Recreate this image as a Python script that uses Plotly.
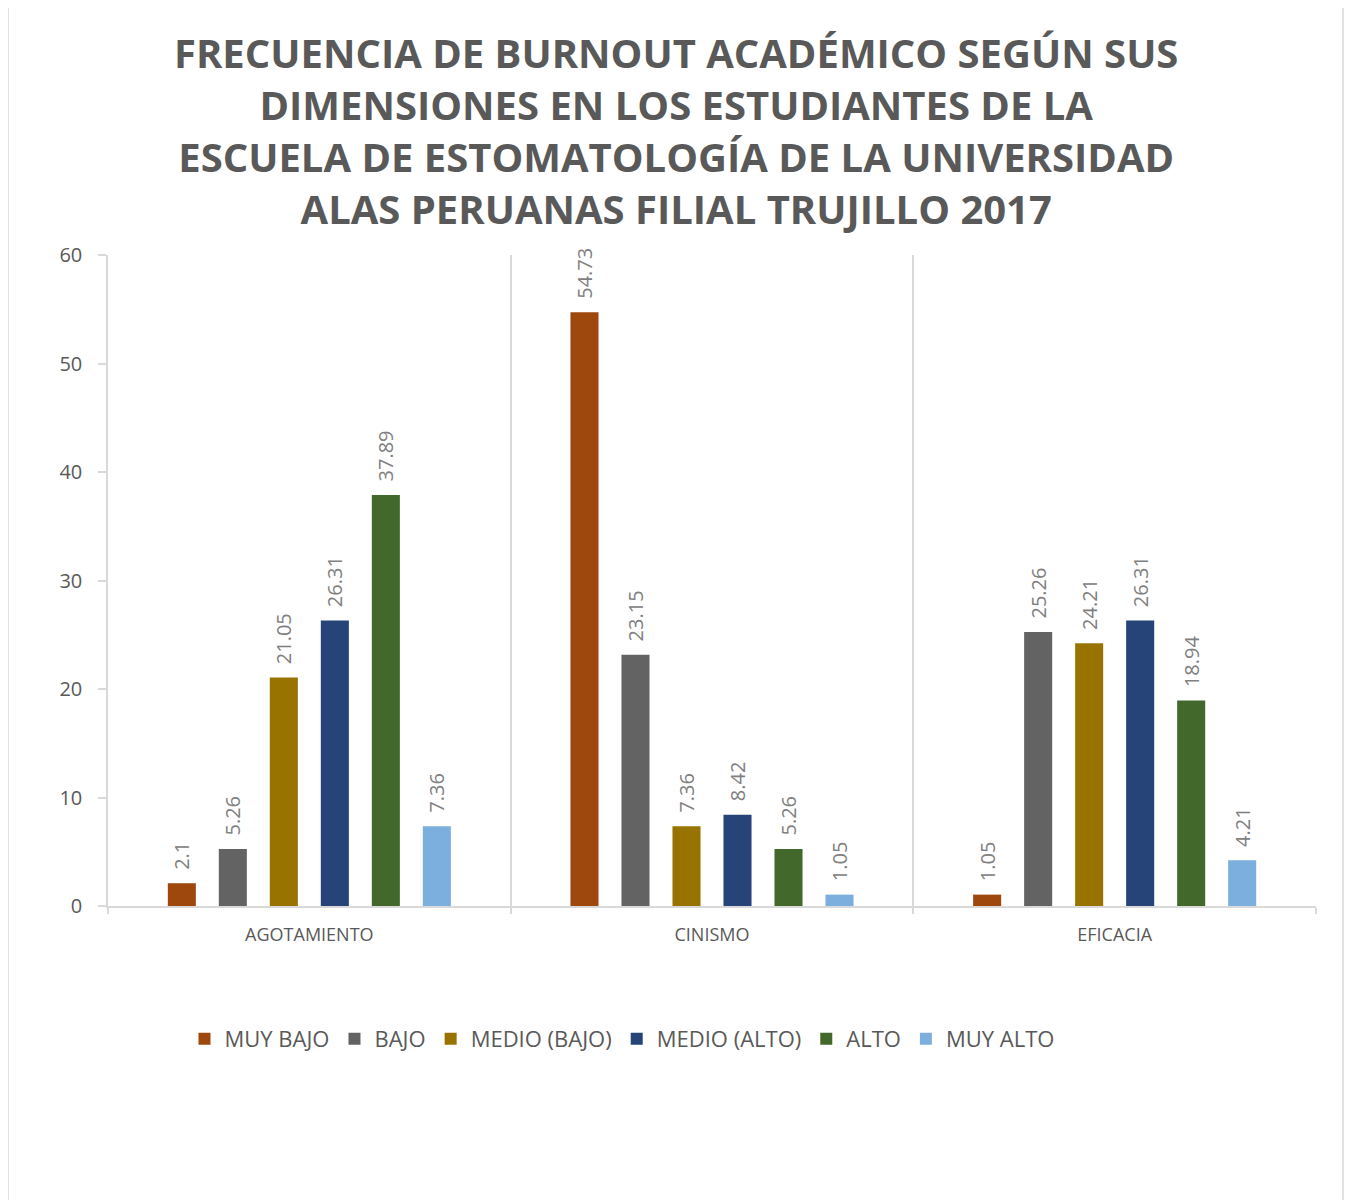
import plotly.graph_objects as go

categories = ["AGOTAMIENTO", "CINISMO", "EFICACIA"]
series_names = ["MUY BAJO", "BAJO", "MEDIO (BAJO)", "MEDIO (ALTO)", "ALTO", "MUY ALTO"]
muy_bajo = [2.1, 54.73, 1.05]
bajo = [5.26, 23.15, 25.26]
medio_bajo = [21.05, 7.36, 24.21]
medio_alto = [26.31, 8.42, 26.31]
alto = [37.89, 5.26, 18.94]
muy_alto = [7.36, 1.05, 4.21]
series_values = [muy_bajo, bajo, medio_bajo, medio_alto, alto, muy_alto]
colors = ["#9E480E", "#636363", "#997300", "#264478", "#43682B", "#7CAFDD"]

title_lines = [
    "FRECUENCIA DE BURNOUT ACADÉMICO SEGÚN SUS",
    "DIMENSIONES EN LOS ESTUDIANTES DE LA",
    "ESCUELA DE ESTOMATOLOGÍA DE LA UNIVERSIDAD",
    "ALAS PERUANAS FILIAL TRUJILLO 2017",
]

# page body adds an 8px offset; figure coordinates below are page - 8
W, H = 1346, 1192
L, R, T, B = 100, 38, 247, 294
pw, ph = W - L - R, H - T - B

def px(x):
    return (x - L) / pw

def py(y):
    return (H - B - y) / ph

fig = go.Figure()
for name, vals, col in zip(series_names, series_values, colors):
    fig.add_trace(go.Bar(
        name=name, x=categories, y=vals,
        marker=dict(color=col, line=dict(width=0)),
        text=["\u00a0\u00a0" + f"{v:g}" for v in vals],
        textposition="outside", textangle=-90,
        constraintext="none",
        textfont=dict(family="Open Sans", size=20, color="#808080"),
        cliponaxis=False,
    ))

grid_col = "#D9D9D9"
fig.update_layout(
    width=W, height=H,
    paper_bgcolor="white", plot_bgcolor="white",
    margin=dict(l=L, r=R, t=T, b=B, autoexpand=False),
    barmode="group", bargap=0.24, bargroupgap=0.45,
    font=dict(family="Open Sans", color="#595959"),
    legend=dict(
        orientation="h", x=px(614), xanchor="center", xref="paper",
        y=py(1031), yref="paper", yanchor="middle",
        font=dict(family="Open Sans", size=22, color="#595959"),
        traceorder="normal",
    ),
    showlegend=True,
)
fig.add_annotation(
    text="<br>".join(f"<b>{l}</b>" for l in title_lines),
    xref="paper", yref="paper", x=px(668), y=py(15),
    xanchor="center", yanchor="top", showarrow=False,
    font=dict(family="Open Sans", size=40, color="#595959"),
    align="center",
)
fig.update_xaxes(
    type="category", tickson="boundaries",
    showgrid=True, gridcolor=grid_col, gridwidth=1.5,
    showline=True, linecolor=grid_col, linewidth=1.5,
    ticks="outside", ticklen=6, tickcolor=grid_col, tickwidth=1.5,
    tickfont=dict(family="Open Sans", size=18, color="#595959"),
    ticklabelstandoff=12,
    zeroline=False,
)
fig.update_yaxes(
    range=[0, 60], dtick=10, showgrid=False,
    showline=True, linecolor=grid_col, linewidth=1.5,
    ticks="outside", ticklen=8, tickcolor=grid_col, tickwidth=1.5,
    tickfont=dict(family="Open Sans", size=20, color="#595959"),
    ticklabelstandoff=12,
    zeroline=False,
)

# outer chart frame
for fx in (0, 1335):
    fig.add_shape(type="line", xref="paper", yref="paper",
                  x0=px(fx), x1=px(fx), y0=py(H), y1=py(0),
                  line=dict(color=grid_col, width=1.5))

fig.write_html("out.html")
